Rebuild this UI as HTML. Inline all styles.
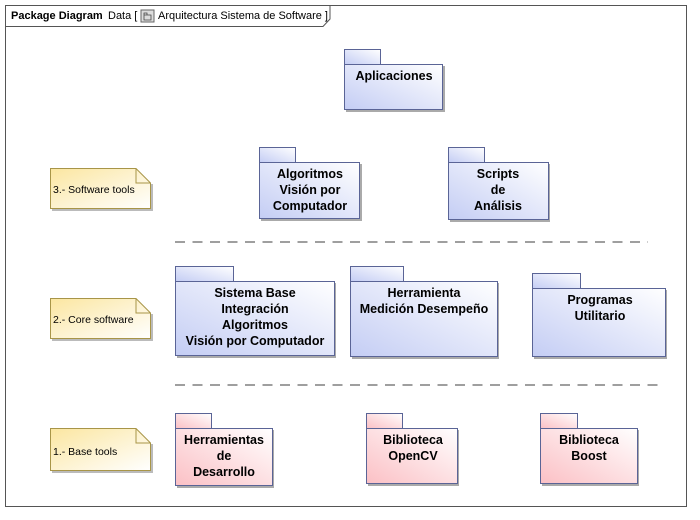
<!DOCTYPE html>
<html><head><meta charset="utf-8"><style>
html,body{margin:0;padding:0;background:#fff;}
svg{display:block;}
text{font-family:"Liberation Sans",sans-serif;}
.b{font-weight:bold;font-size:12.5px;fill:#000;text-anchor:middle;}
.n{font-size:10.5px;fill:#000;}
</style></head><body>
<svg width="700" height="520" viewBox="0 0 700 520" xmlns="http://www.w3.org/2000/svg">
<defs>
<linearGradient id="bl" x1="0" y1="1" x2="1" y2="0"><stop offset="0" stop-color="#c4cdf4"/><stop offset="1" stop-color="#ffffff"/></linearGradient>
<linearGradient id="rd" x1="0" y1="1" x2="1" y2="0"><stop offset="0" stop-color="#fbc0c5"/><stop offset="1" stop-color="#ffffff"/></linearGradient>
<linearGradient id="yl" x1="0" y1="0" x2="1" y2="1"><stop offset="0" stop-color="#fbe6a0"/><stop offset="1" stop-color="#ffffff"/></linearGradient>
</defs>
<rect x="5.5" y="5.5" width="681" height="501" fill="#fff" stroke="#555"/>
<path d="M5.5 26.5 H323 L330 19 V5.5" fill="none" stroke="#555"/>
<text x="11" y="19" font-size="11px"><tspan font-weight="bold">Package Diagram</tspan><tspan x="108">Data [</tspan></text>
<rect x="141" y="10" width="13" height="12" fill="#ddd" stroke="#666"/>
<path d="M144 15 h7 v5 h-7z M144 15 v-2 h3 v2" fill="none" stroke="#444" stroke-width="0.8"/>
<text x="158" y="19" font-size="11px">Arquitectura Sistema de Software ]</text>

<g stroke="#666" stroke-width="1.3" stroke-dasharray="10,7.5">
<line x1="175" y1="242" x2="648" y2="242"/>
<line x1="175" y1="385" x2="660" y2="385"/>
</g>

<g stroke="#a89548" stroke-width="1" fill="url(#yl)">
<path d="M50.5 168.5 H136 L150.5 183 V208.5 H50.5Z"/>
<path d="M50.5 298.5 H136 L150.5 313 V338.5 H50.5Z"/>
<path d="M50.5 428.5 H136 L150.5 443 V470.5 H50.5Z"/>
</g>
<g fill="#bbb"><rect x="52" y="209" width="100" height="2"/><rect x="151" y="184" width="2" height="27"/>
<rect x="52" y="339" width="100" height="2"/><rect x="151" y="314" width="2" height="27"/>
<rect x="52" y="471" width="100" height="2"/><rect x="151" y="444" width="2" height="29"/></g>
<g stroke="#a89548" fill="none"><path d="M136 168.5 V183 H150.5"/><path d="M136 298.5 V313 H150.5"/><path d="M136 428.5 V443 H150.5"/></g>
<text class="n" x="53" y="193">3.- Software tools</text>
<text class="n" x="53" y="323">2.- Core software</text>
<text class="n" x="53" y="455">1.- Base tools</text>

<g stroke="#5a6496" stroke-width="1">
<rect x="346" y="66" width="99" height="46" fill="#aaa" stroke="none"/>
<rect x="344.5" y="49.5" width="36" height="15" fill="url(#bl)"/>
<rect x="344.5" y="64.5" width="98" height="45" fill="url(#bl)"/>
<rect x="261" y="164" width="101" height="57" fill="#aaa" stroke="none"/>
<rect x="259.5" y="147.5" width="36" height="15" fill="url(#bl)"/>
<rect x="259.5" y="162.5" width="100" height="56" fill="url(#bl)"/>
<rect x="450" y="164" width="100" height="58" fill="#aaa" stroke="none"/>
<rect x="448.5" y="147.5" width="36" height="15" fill="url(#bl)"/>
<rect x="448.5" y="162.5" width="100" height="57" fill="url(#bl)"/>
<rect x="177" y="283" width="159" height="75" fill="#aaa" stroke="none"/>
<rect x="175.5" y="266.5" width="58" height="15" fill="url(#bl)"/>
<rect x="175.5" y="281.5" width="159" height="74" fill="url(#bl)"/>
<rect x="352" y="283" width="147" height="76" fill="#aaa" stroke="none"/>
<rect x="350.5" y="266.5" width="53" height="15" fill="url(#bl)"/>
<rect x="350.5" y="281.5" width="147" height="75" fill="url(#bl)"/>
<rect x="534" y="290" width="133" height="69" fill="#aaa" stroke="none"/>
<rect x="532.5" y="273.5" width="48" height="15" fill="url(#bl)"/>
<rect x="532.5" y="288.5" width="133" height="68" fill="url(#bl)"/>
</g>
<g stroke="#5a6496" stroke-width="1">
<rect x="177" y="430" width="97" height="58" fill="#aaa" stroke="none"/>
<rect x="175.5" y="413.5" width="36" height="15" fill="url(#rd)"/>
<rect x="175.5" y="428.5" width="97" height="57" fill="url(#rd)"/>
<rect x="368" y="430" width="91" height="56" fill="#aaa" stroke="none"/>
<rect x="366.5" y="413.5" width="36" height="15" fill="url(#rd)"/>
<rect x="366.5" y="428.5" width="91" height="55" fill="url(#rd)"/>
<rect x="542" y="430" width="97" height="56" fill="#aaa" stroke="none"/>
<rect x="540.5" y="413.5" width="37" height="15" fill="url(#rd)"/>
<rect x="540.5" y="428.5" width="97" height="55" fill="url(#rd)"/>
</g>

<text class="b" x="394" y="80">Aplicaciones</text>
<text class="b" x="310" y="178">Algoritmos</text>
<text class="b" x="310" y="194">Visión por</text>
<text class="b" x="310" y="210">Computador</text>
<text class="b" x="498" y="178">Scripts</text>
<text class="b" x="498" y="194">de</text>
<text class="b" x="498" y="210">Análisis</text>
<text class="b" x="255" y="297">Sistema Base</text>
<text class="b" x="255" y="313">Integración</text>
<text class="b" x="255" y="329">Algoritmos</text>
<text class="b" x="255" y="345">Visión por Computador</text>
<text class="b" x="424" y="297">Herramienta</text>
<text class="b" x="424" y="313">Medición Desempeño</text>
<text class="b" x="600" y="304">Programas</text>
<text class="b" x="600" y="320">Utilitario</text>
<text class="b" x="224" y="444">Herramientas</text>
<text class="b" x="224" y="460">de</text>
<text class="b" x="224" y="476">Desarrollo</text>
<text class="b" x="413" y="444">Biblioteca</text>
<text class="b" x="413" y="460">OpenCV</text>
<text class="b" x="589" y="444">Biblioteca</text>
<text class="b" x="589" y="460">Boost</text>
</svg>
</body></html>
